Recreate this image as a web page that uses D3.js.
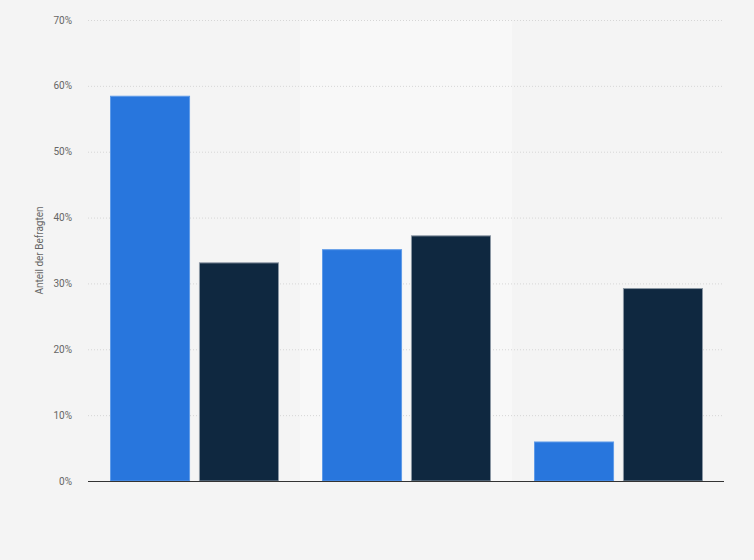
<!DOCTYPE html>
<html>
<head>
<meta charset="utf-8">
<script src="https://cdn.jsdelivr.net/npm/d3@7"></script>
<style>
  html, body { margin: 0; padding: 0; background: #f4f4f4; }
  svg { display: block; font-family: Roboto, "Open Sans", Arial, sans-serif; }
</style>
</head>
<body>
<div id="chart"></div>
<script>
'use strict';

// Data (no category labels shown)
var categories = ['A', 'B', 'C'];
var seriesNames = ['Serie 1', 'Serie 2'];
var series1 = [58.5, 35.2, 6.0];
var series2 = [33.2, 37.3, 29.3];
var yTicks = [0, 10, 20, 30, 40, 50, 60, 70];
var yLabel = 'Anteil der Befragten';

var COLORS = ['#2876dd', '#0f2840'];
var STROKES = ['#5f9be8', '#8a96a3'];

var width = 754, height = 560;
var margin = { top: 20, right: 30, bottom: 79, left: 88 };
var innerW = width - margin.left - margin.right;
var innerH = height - margin.top - margin.bottom;

var svg = d3.select('#chart').append('svg')
  .attr('width', width)
  .attr('height', height);

svg.append('rect')
  .attr('width', width)
  .attr('height', height)
  .attr('fill', '#f4f4f4');

var g = svg.append('g')
  .attr('transform', 'translate(' + margin.left + ',' + margin.top + ')');

var x = d3.scaleBand()
  .domain(categories)
  .range([0, innerW])
  .padding(0);

var x1 = d3.scaleBand()
  .domain(seriesNames)
  .range([22, x.bandwidth() - 21])
  .paddingInner(0.1);

var y = d3.scaleLinear()
  .domain([0, 70])
  .range([innerH, 0]);

// alternating band for middle category
g.selectAll('rect.band')
  .data(categories.filter(function(d, i) { return i % 2 === 1; }))
  .enter()
  .append('rect')
  .attr('class', 'band')
  .attr('x', function(d) { return x(d); })
  .attr('y', 0)
  .attr('width', x.bandwidth())
  .attr('height', innerH)
  .attr('fill', '#f8f8f8');

// gridlines
g.selectAll('line.grid')
  .data(yTicks.filter(function(t) { return t > 0; }))
  .enter()
  .append('line')
  .attr('class', 'grid')
  .attr('x1', 0)
  .attr('x2', innerW)
  .attr('y1', function(d) { return y(d) + 0.5; })
  .attr('y2', function(d) { return y(d) + 0.5; })
  .attr('stroke', '#d6d6d6')
  .attr('stroke-width', 1)
  .attr('stroke-dasharray', '1,2');

// y tick labels
g.selectAll('text.tick')
  .data(yTicks)
  .enter()
  .append('text')
  .attr('class', 'tick')
  .attr('x', -16)
  .attr('y', function(d) { return y(d); })
  .attr('dy', '0.35em')
  .attr('text-anchor', 'end')
  .attr('font-size', 10)
  .attr('fill', '#666')
  .text(function(d) { return d + '%'; });

// bars
var rows = categories.map(function(c, i) {
  return { cat: c, values: [series1[i], series2[i]] };
});

var groups = g.selectAll('g.cat')
  .data(rows)
  .enter()
  .append('g')
  .attr('class', 'cat')
  .attr('transform', function(d) { return 'translate(' + x(d.cat) + ',0)'; });

groups.selectAll('rect')
  .data(function(d) {
    return d.values.map(function(v, j) { return { name: seriesNames[j], value: v, j: j }; });
  })
  .enter()
  .append('rect')
  .attr('x', function(d) { return x1(d.name) + 0.5; })
  .attr('y', function(d) { return y(d.value) + 0.5; })
  .attr('width', function(d) { return x1.bandwidth() - 1; })
  .attr('height', function(d) { return innerH - y(d.value) - 0.5; })
  .attr('fill', function(d) { return COLORS[d.j]; })
  .attr('stroke', function(d) { return STROKES[d.j]; })
  .attr('stroke-width', 1);

// baseline
g.append('line')
  .attr('x1', 0)
  .attr('x2', innerW)
  .attr('y1', innerH + 0.5)
  .attr('y2', innerH + 0.5)
  .attr('stroke', '#333')
  .attr('stroke-width', 1.2);

// y axis title
svg.append('text')
  .attr('transform', 'translate(43,' + (margin.top + innerH / 2) + ') rotate(-90)')
  .attr('text-anchor', 'middle')
  .attr('font-size', 10)
  .attr('fill', '#666')
  .text(yLabel);
</script>
</body>
</html>
